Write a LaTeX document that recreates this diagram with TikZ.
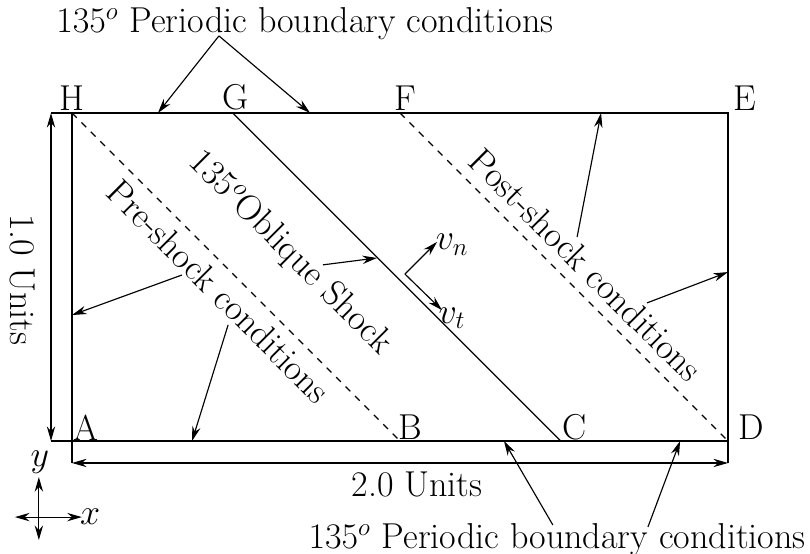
\documentclass[tikz,border=0pt]{standalone}
\usepackage{amsmath}
\usepackage{tikz}
\usetikzlibrary{arrows.meta}

\begin{document}
\begin{tikzpicture}[x=5.53cm, y=5.53cm, >={Stealth[length=7pt,width=4pt]},
        line width=0.55pt,
        every node/.style={inner sep=0pt, font=\LARGE},
        corner/.style={anchor=base},
        cornerr/.style={anchor=base west},
        shocktext/.style={rotate=-45}]
        \useasboundingbox (-0.2195,-0.3445) rectangle (2.25,1.3445);

        % domain corners
        \coordinate (A) at (0,0);
        \coordinate (B) at (1,0);
        \coordinate (C) at (1.49,0);
        \coordinate (D) at (2,0);
        \coordinate (E) at (2,1);
        \coordinate (F) at (1,1);
        \coordinate (G) at (0.49,1);
        \coordinate (H) at (0,1);
        \coordinate (Hx) at (-0.064,1);
        \coordinate (Ax) at (-0.064,0);
        \coordinate (Ay) at (0,-0.067);
        \coordinate (Dy) at (2,-0.067);

        \draw (A) -- (D) -- (E) -- (H) -- cycle;
        \draw (H) -- (Hx);
        \draw (A) -- (Ax);
        \draw (A) -- (Ay);
        \draw (D) -- (Dy);
        \draw (G) -- (C);
        \draw[dash pattern=on 3.2pt off 3.2pt] (H) -- (B);
        \draw[dash pattern=on 3.2pt off 3.2pt] (F) -- (D);

        \node[corner] (labH) at (0,1.009) {H};
        \node[corner] (labG) at (0.5,1.012) {G};
        \node[corner] (labF) at (1.015,1.009) {F};
        \node[corner] (labE) at (2.052,1.009) {E};
        \node[cornerr] (labA) at (0.003,0.003) {A};
        \node[cornerr] (labB) at (0.994,0.006) {B};
        \node[cornerr] (labC) at (1.494,0.006) {C};
        \node[cornerr] (labD) at (2.030,0.006) {D};

        % dimensions
        \draw[<->] (Hx) -- (Ax);
        \draw[<->] (Ay) -- (Dy);
        \node[rotate=-90] (leny) at (-0.152,0.491) {1.0 Units};
        \node (lenx) at (1.052,-0.134) {2.0 Units};

        % periodic boundaries
        \node[anchor=base] (topbc) at (0.710,1.244) {$135^o$ Periodic boundary conditions};
        \node[anchor=base] (botbc) at (1.479,-0.329) {$135^o$ Periodic boundary conditions};
        \coordinate (topfork) at (0.448,1.235);
        \coordinate (topl) at (0.262,1);
        \coordinate (topr) at (0.726,1);
        \draw[->] (topfork) -- (topl);
        \draw[->] (topfork) -- (topr);
        \coordinate (botl0) at (1.466,-0.256);
        \coordinate (botl) at (1.317,0);
        \coordinate (botr0) at (1.756,-0.262);
        \coordinate (botr) at (1.854,0);
        \draw[->] (botl0) -- (botl);
        \draw[->] (botr0) -- (botr);

        % shock and states
        \node[shocktext] (shock) at (0.665,0.573) {$135^o$Oblique Shock};
        \node[shocktext] (preshock) at (0.448,0.457) {Pre-shock conditions};
        \node[shocktext] (postshock) at (1.567,0.537) {Post-shock conditions};

        \coordinate (sh0) at (0.765,0.537);
        \coordinate (sh1) at (0.930,0.558);
        \draw[->] (sh0) -- (sh1);
        \coordinate (pre0) at (0.335,0.506);
        \coordinate (pre1) at (0,0.384);
        \coordinate (pre2) at (0.476,0.354);
        \coordinate (pre3) at (0.366,0);
        \draw[->] (pre0) -- (pre1);
        \draw[->] (pre2) -- (pre3);
        \coordinate (post0) at (1.540,0.622);
        \coordinate (post1) at (1.613,1);
        \coordinate (post2) at (1.753,0.421);
        \coordinate (post3) at (2,0.515);
        \draw[->] (post0) -- (post1);
        \draw[->] (post2) -- (post3);

        % velocity components
        \coordinate (vo) at (1.015,0.509);
        \coordinate (vntip) at (1.113,0.607);
        \coordinate (vttip) at (1.128,0.399);
        \draw[->] (vo) -- (vntip);
        \draw[->] (vo) -- (vttip);
        \node (vn) at (1.159,0.598) {$v_n$};
        \node (vt) at (1.159,0.375) {$v_t$};

        % axes
        \coordinate (xw) at (-0.174,-0.232);
        \coordinate (xe) at (0.030,-0.232);
        \coordinate (yn) at (-0.101,-0.110);
        \coordinate (ys) at (-0.101,-0.302);
        \draw[<->] (xw) -- (xe);
        \draw[<->] (ys) -- (yn);
        \node (xlab) at (0.055,-0.232) {$x$};
        \node (ylab) at (-0.098,-0.064) {$y$};
    \end{tikzpicture}
\end{document}
